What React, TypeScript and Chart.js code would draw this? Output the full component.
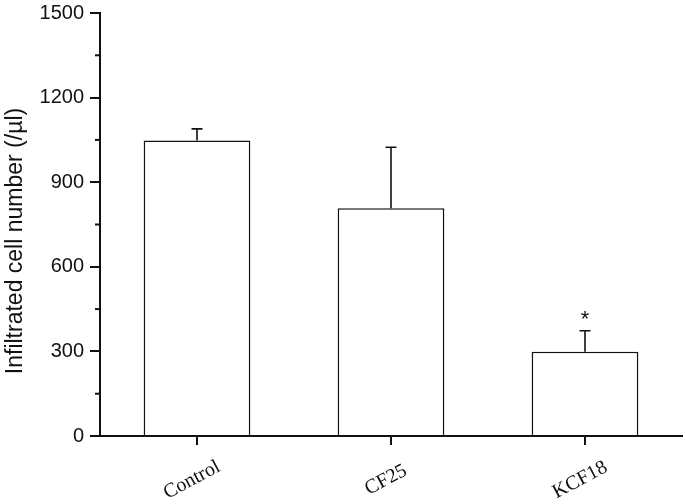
import React, { useEffect, useRef } from "react";
import { Chart, registerables } from "chart.js";

Chart.register(...registerables);

const categories = ["Control", "CF25", "KCF18"];
const means = [1048, 808, 299];
const errors = [41, 216, 74];
const marks = ["", "", "*"];
const yTicks = [0, 300, 600, 900, 1200, 1500];
const yMinorTicks = [150, 450, 750, 1050, 1350];
const yTitle = "Infiltrated cell number (/\u00b5l)";

const overlay = {
  id: "overlay",
  afterDatasetsDraw(chart: any) {
    const ctx = chart.ctx;
    const xs = chart.scales.x;
    const ys = chart.scales.y;
    ctx.save();
    // error bars
    ctx.strokeStyle = "#111";
    ctx.lineWidth = 1.6;
    means.forEach((m, i) => {
      const x = xs.getPixelForValue(i);
      const y0 = ys.getPixelForValue(m);
      const y1 = ys.getPixelForValue(m + errors[i]);
      ctx.beginPath();
      ctx.moveTo(x, y0);
      ctx.lineTo(x, y1);
      ctx.moveTo(x - 5.5, y1);
      ctx.lineTo(x + 5.5, y1);
      ctx.stroke();
      if (marks[i]) {
        ctx.fillStyle = "#111";
        ctx.font = "22px 'Liberation Sans', Arial, sans-serif";
        ctx.textAlign = "center";
        ctx.textBaseline = "middle";
        ctx.fillText(marks[i], x, y1 - 11);
      }
    });
    // minor y ticks
    ctx.strokeStyle = "#111";
    ctx.lineWidth = 2;
    const left = chart.chartArea.left;
    yMinorTicks.forEach((v) => {
      const y = ys.getPixelForValue(v);
      ctx.beginPath();
      ctx.moveTo(left - 5, y);
      ctx.lineTo(left, y);
      ctx.stroke();
    });
    // x labels
    ctx.fillStyle = "#111";
    ctx.font = "20px 'Liberation Serif', 'Times New Roman', serif";
    ctx.textAlign = "center";
    ctx.textBaseline = "middle";
    categories.forEach((c, i) => {
      const x = xs.getPixelForValue(i);
      ctx.save();
      ctx.translate(x - 5, chart.chartArea.bottom + 44);
      ctx.rotate(-28 * Math.PI / 180);
      ctx.fillText(c, 0, 0);
      ctx.restore();
    });
    // y title
    ctx.save();
    ctx.font = "23px 'Liberation Sans', Arial, sans-serif";
    ctx.translate(16, 241);
    ctx.rotate(-Math.PI / 2);
    ctx.fillText(yTitle, 0, 0);
    ctx.restore();
    ctx.restore();
  },
};

export default function App() {
  const ref = useRef<HTMLCanvasElement | null>(null);
  useEffect(() => {
    if (!ref.current) return;
    const chart = new Chart(ref.current, {
      type: "bar",
      data: {
        labels: categories,
        datasets: [
          {
            data: means,
            backgroundColor: "#ffffff",
            borderColor: "#111",
            borderWidth: 1.6,
            barPercentage: 0.55,
            categoryPercentage: 1,
          },
        ],
      },
      options: {
        animation: false,
        responsive: false,
        maintainAspectRatio: false,
        layout: { padding: { top: 13, right: 3, left: 0, bottom: 0 } },
        plugins: { legend: { display: false }, tooltip: { enabled: false } },
        scales: {
          x: {
            offset: true,
            afterFit: (s: any) => { s.height = 68; s.paddingLeft = 0; s.paddingRight = 0; },
            grid: { offset: false, drawOnChartArea: false, tickLength: 9, lineWidth: 2, color: "#111" },
            border: { display: true, color: "#111", width: 2 },
            ticks: { color: "rgba(0,0,0,0)", maxRotation: 0, minRotation: 0 },
          },
          y: {
            min: 0,
            max: 1500,
            afterFit: (s: any) => { s.width = 100; s.paddingTop = 0; s.paddingBottom = 0; },
            afterBuildTicks: (s: any) => { s.ticks = yTicks.map((v) => ({ value: v })); },
            grid: { drawOnChartArea: false, tickLength: 10, lineWidth: 2, color: "#111" },
            border: { display: true, color: "#111", width: 2 },
            ticks: {
              color: "#111",
              padding: 6,
              font: { family: "'Liberation Sans', Arial, sans-serif", size: 20 },
              callback: (v: any) => String(v),
            },
          },
        },
      },
      plugins: [overlay],
    });
    return () => chart.destroy();
  }, []);
  return (
    <div style={{ position: "fixed", left: 0, top: 0, width: 685, height: 504, background: "#fff" }}>
      <canvas ref={ref} width={685} height={504} style={{ width: 685, height: 504 }} />
    </div>
  );
}
